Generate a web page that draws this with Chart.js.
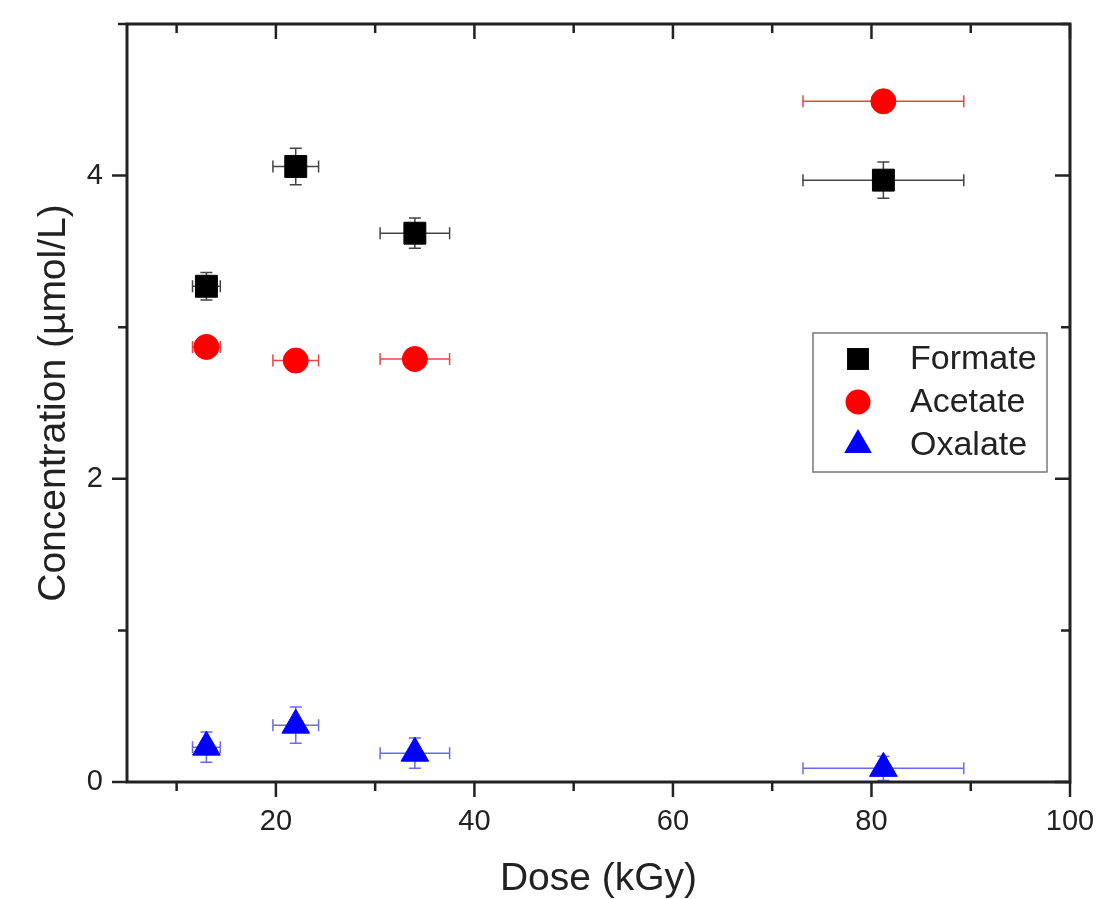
<!DOCTYPE html>
<html>
<head>
<meta charset="utf-8">
<title>Dose vs concentration</title>
<script src="https://cdn.jsdelivr.net/npm/chart.js@4.4.1/dist/chart.umd.min.js"></script>
<style>
  html, body { margin: 0; padding: 0; background: #fff; }
  #wrap { width: 1096px; height: 899px; }
</style>
</head>
<body>
<div id="wrap"><canvas id="chart" width="1096" height="899"></canvas></div>
<script>
// dose points (kGy) and their horizontal uncertainty
const doses = [13, 22, 34, 81.2];
const doseErr = [1.4, 2.3, 3.5, 8.1];

// concentrations (umol/L) with vertical uncertainty
const formate = [3.27, 4.06, 3.62, 3.97];
const formateErr = [0.09, 0.12, 0.1, 0.12];
const acetate = [2.87, 2.78, 2.79, 4.49];
const acetateErr = [0.05, 0.05, 0.05, 0.05];
const oxalate = [0.23, 0.375, 0.19, 0.09];
const oxalateErr = [0.1, 0.12, 0.1, 0.08];

const xMajor = [20, 40, 60, 80, 100];
const xMinor = [10, 30, 50, 70, 90];
const yMajor = [0, 2, 4];
const yMinor = [1, 3, 5];

const FONT = "'Liberation Sans', Arial, sans-serif";
const INK = '#222';

function series(label, ys, yErr, pointStyle, radius, color, errColor) {
  return {
    label,
    data: doses.map((x, i) => ({ x, y: ys[i], xErr: doseErr[i], yErr: yErr[i] })),
    pointStyle,
    pointRadius: radius,
    pointHoverRadius: radius,
    backgroundColor: color,
    borderColor: color,
    borderWidth: 1,
    showLine: false,
    errColor
  };
}

// error bars with caps, drawn under the markers
const errorBars = {
  id: 'errorBars',
  beforeDatasetsDraw(chart) {
    const { ctx, scales: { x, y } } = chart;
    const cap = 6;
    ctx.save();
    ctx.lineWidth = 1.5;
    chart.data.datasets.forEach(ds => {
      ctx.strokeStyle = ds.errColor;
      ds.data.forEach(p => {
        const px = x.getPixelForValue(p.x), py = y.getPixelForValue(p.y);
        const xl = x.getPixelForValue(p.x - p.xErr), xr = x.getPixelForValue(p.x + p.xErr);
        const yb = y.getPixelForValue(p.y - p.yErr), yt = y.getPixelForValue(p.y + p.yErr);
        ctx.beginPath();
        ctx.moveTo(xl, py); ctx.lineTo(xr, py);
        ctx.moveTo(xl, py - cap); ctx.lineTo(xl, py + cap);
        ctx.moveTo(xr, py - cap); ctx.lineTo(xr, py + cap);
        ctx.moveTo(px, yb); ctx.lineTo(px, yt);
        ctx.moveTo(px - cap, yb); ctx.lineTo(px + cap, yb);
        ctx.moveTo(px - cap, yt); ctx.lineTo(px + cap, yt);
        ctx.stroke();
      });
    });
    ctx.restore();
  }
};

// closed frame with outward ticks on bottom/left and inward ticks on top/right
const frame = {
  id: 'frame',
  afterDraw(chart) {
    const { ctx, chartArea: a, scales: { x, y } } = chart;
    ctx.save();
    ctx.strokeStyle = INK;
    ctx.lineWidth = 3;
    ctx.strokeRect(a.left, a.top, a.right - a.left, a.bottom - a.top);
    ctx.lineWidth = 2.5;
    ctx.beginPath();
    const xt = (vals, len) => vals.forEach(v => {
      const px = x.getPixelForValue(v);
      ctx.moveTo(px, a.bottom); ctx.lineTo(px, a.bottom + len);
      ctx.moveTo(px, a.top); ctx.lineTo(px, a.top + len);
    });
    const yt = (vals, len) => vals.forEach(v => {
      const py = y.getPixelForValue(v);
      ctx.moveTo(a.left, py); ctx.lineTo(a.left - len, py);
      ctx.moveTo(a.right, py); ctx.lineTo(a.right - len, py);
    });
    xt(xMajor, 15); xt(xMinor, 9);
    yt(yMajor, 15); yt(yMinor, 9);
    ctx.stroke();
    ctx.restore();
  }
};

// boxed legend inside the plot area
const boxLegend = {
  id: 'boxLegend',
  afterDraw(chart) {
    const { ctx } = chart;
    const left = 813, top = 333, w = 234, h = 139;
    const rows = [359, 402, 445];
    ctx.save();
    ctx.strokeStyle = '#777';
    ctx.lineWidth = 1.5;
    ctx.strokeRect(left, top, w, h);
    ctx.font = '34px ' + FONT;
    ctx.textBaseline = 'middle';
    chart.data.datasets.forEach((ds, i) => {
      const cx = 858, cy = rows[i], r = ds.pointRadius;
      ctx.fillStyle = ds.backgroundColor;
      ctx.beginPath();
      if (ds.pointStyle === 'rect') {
        const s = Math.SQRT1_2 * r;
        ctx.rect(cx - s, cy - s, 2 * s, 2 * s);
      } else if (ds.pointStyle === 'circle') {
        ctx.arc(cx, cy, r, 0, Math.PI * 2);
      } else {
        let rad = 0;
        for (let k = 0; k < 3; k++) {
          ctx[k ? 'lineTo' : 'moveTo'](cx + Math.sin(rad) * r, cy - Math.cos(rad) * r);
          rad += Math.PI * 2 / 3;
        }
        ctx.closePath();
      }
      ctx.fill();
      ctx.fillStyle = INK;
      ctx.fillText(ds.label, 910, cy + 1);
    });
    ctx.restore();
  }
};

new Chart(document.getElementById('chart'), {
  type: 'scatter',
  data: {
    datasets: [
      series('Formate', formate, formateErr, 'rect', 15.5, '#000000', '#444444'),
      series('Acetate', acetate, acetateErr, 'circle', 12.5, '#ff0000', '#e84545'),
      series('Oxalate', oxalate, oxalateErr, 'triangle', 16, '#0000ff', '#6a6af0')
    ]
  },
  options: {
    responsive: false,
    animation: false,
    events: [],
    layout: { padding: { top: 24, right: 26, left: 0, bottom: 0 } },
    plugins: { legend: { display: false }, tooltip: { enabled: false } },
    scales: {
      x: {
        type: 'linear',
        min: 5,
        max: 100,
        afterBuildTicks: s => { s.ticks = xMajor.map(v => ({ value: v })); },
        afterFit: s => { s.height = 117; s.paddingLeft = 0; s.paddingRight = 0; },
        grid: { display: false, drawTicks: false },
        border: { display: false },
        ticks: { font: { family: FONT, size: 29 }, color: INK, padding: 23, maxRotation: 0 },
        title: {
          display: true, text: 'Dose (kGy)', color: INK,
          font: { family: FONT, size: 39, lineHeight: 1 },
          padding: { top: 0, bottom: 0 }
        }
      },
      y: {
        type: 'linear',
        min: 0,
        max: 5,
        afterBuildTicks: s => { s.ticks = yMajor.map(v => ({ value: v })); },
        afterFit: s => { s.width = 127; s.paddingTop = 0; s.paddingBottom = 0; },
        grid: { display: false, drawTicks: false },
        border: { display: false },
        ticks: { font: { family: FONT, size: 29 }, color: INK, padding: 24 },
        title: {
          display: true, text: 'Concentration (µmol/L)', color: INK,
          font: { family: FONT, size: 39, lineHeight: 1 },
          padding: { top: 35, bottom: 0 }
        }
      }
    }
  },
  plugins: [errorBars, frame, boxLegend]
});
</script>
</body>
</html>
